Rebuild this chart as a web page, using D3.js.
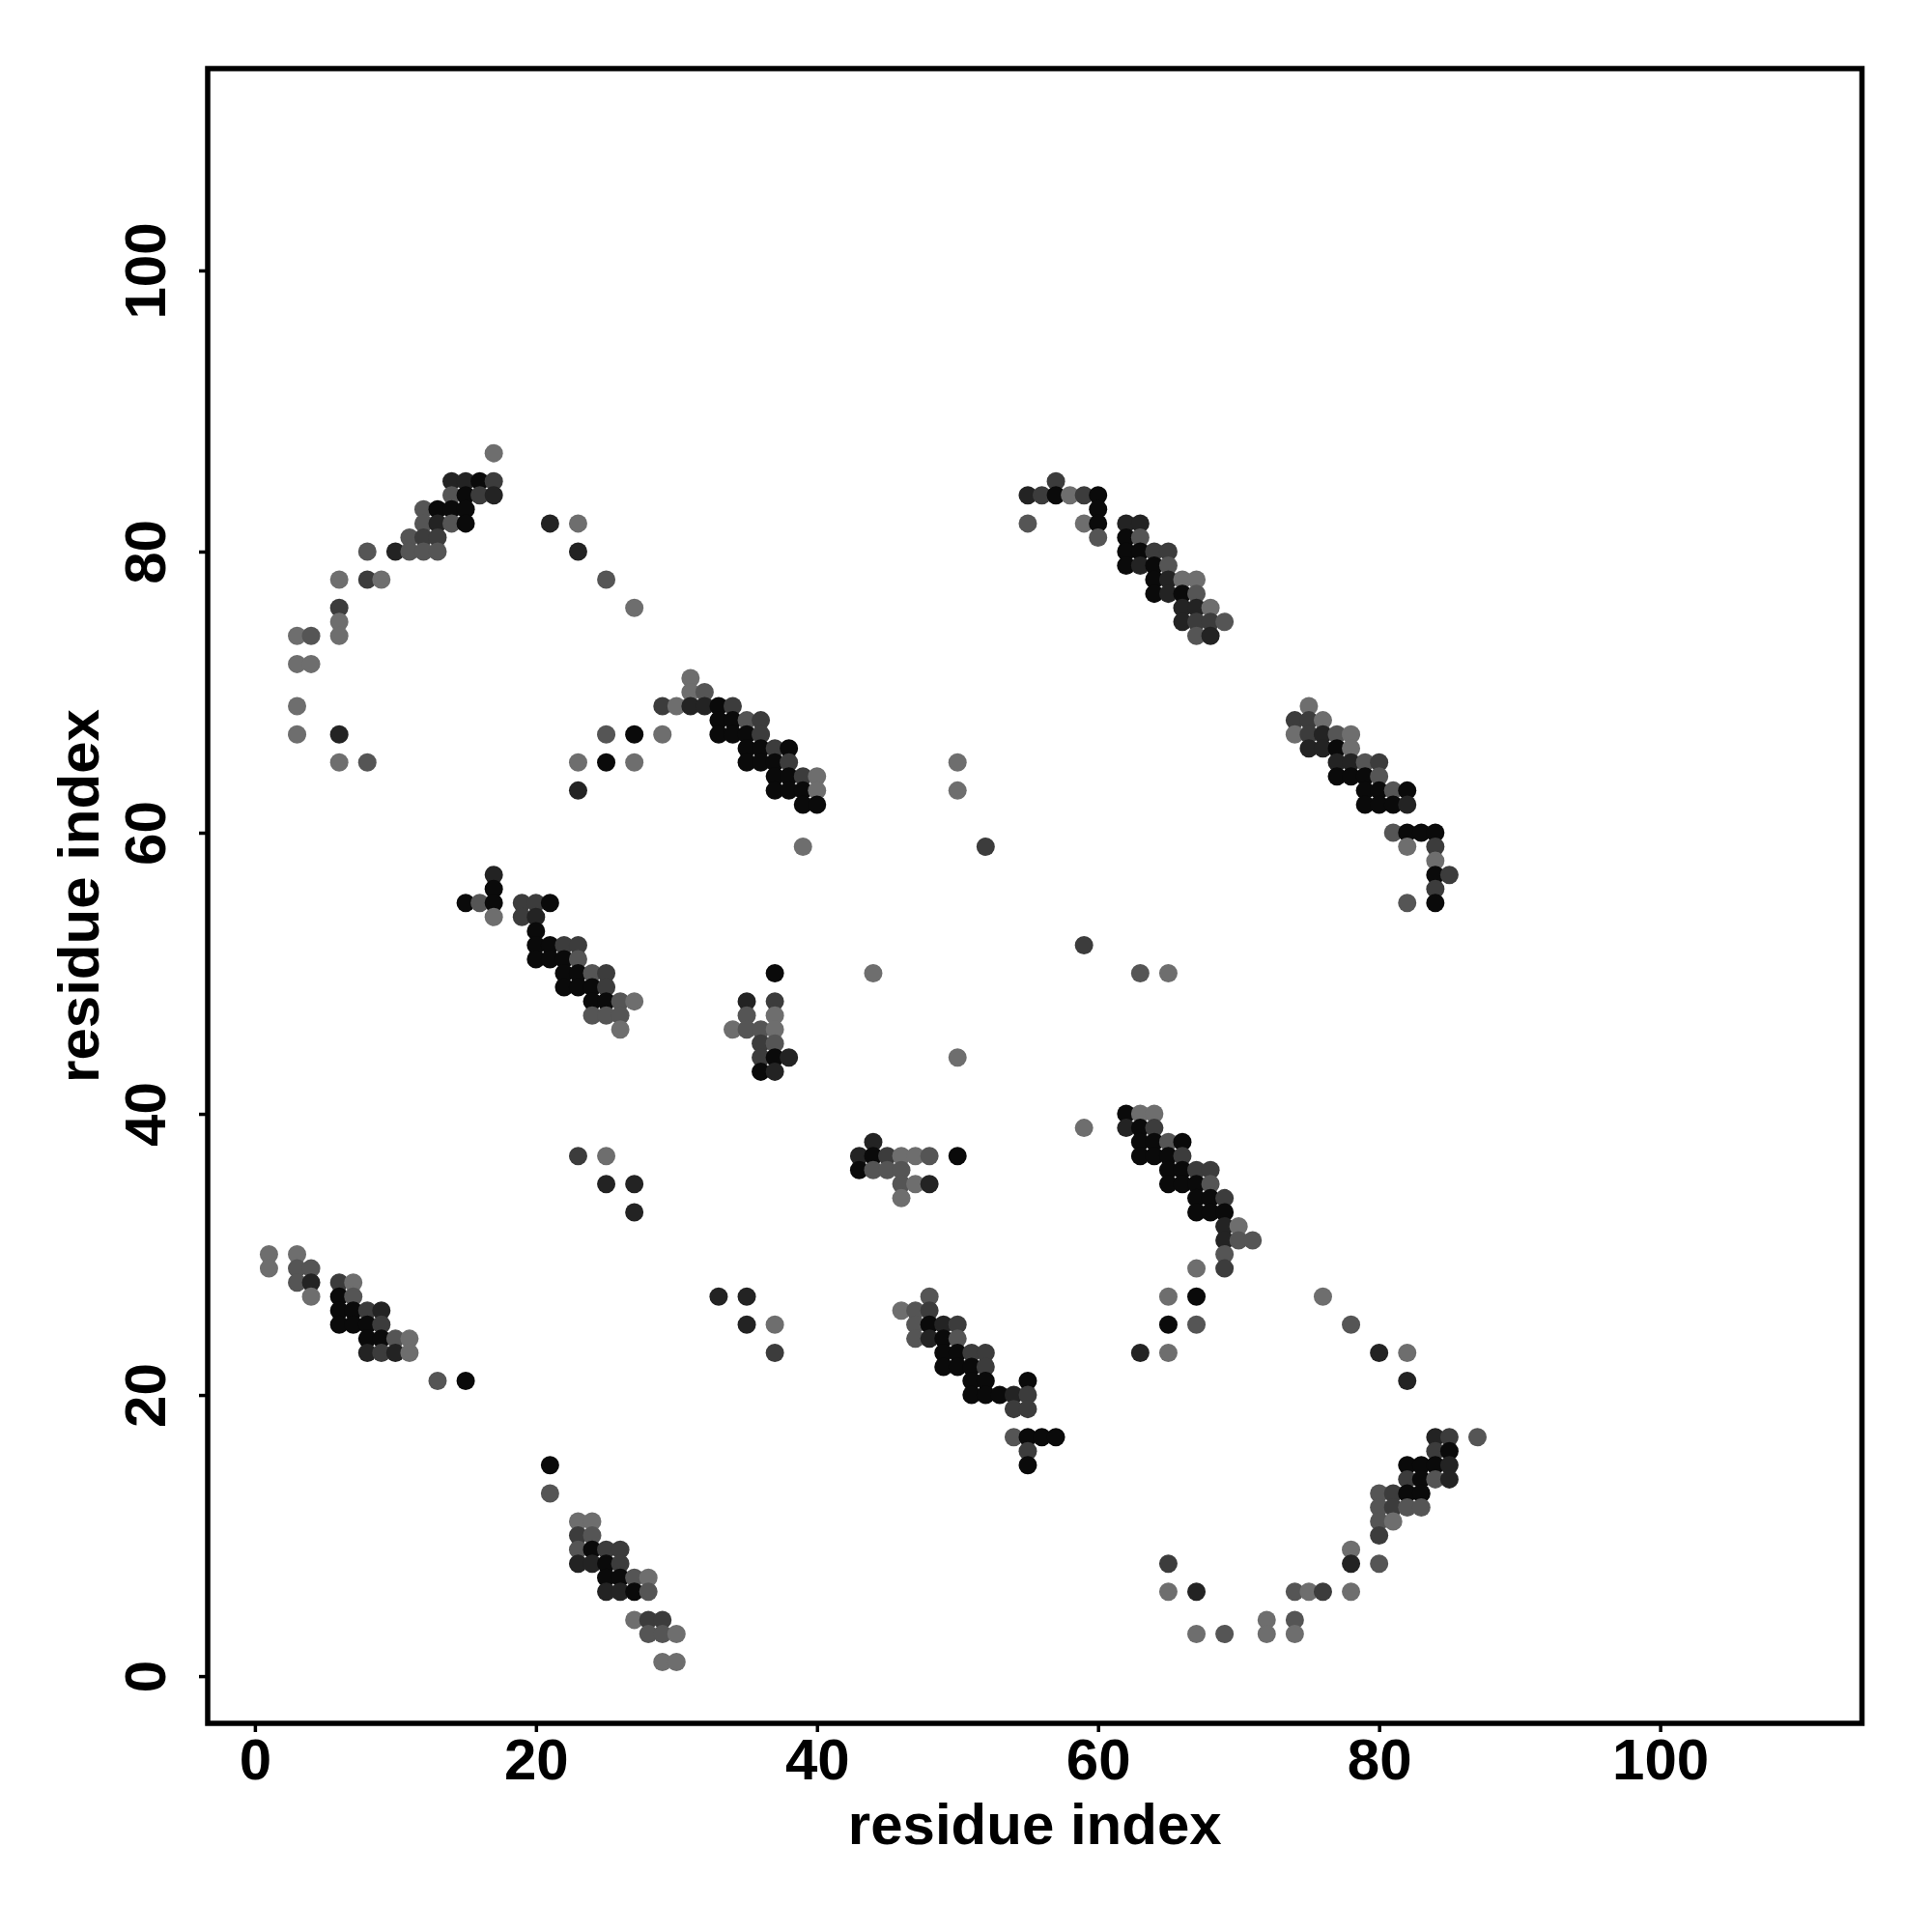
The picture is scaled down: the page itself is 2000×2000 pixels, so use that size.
<!DOCTYPE html>
<html>
<head>
<meta charset="utf-8">
<script src="https://cdn.jsdelivr.net/npm/d3@7"></script>
<style>
  body { margin: 0; background: #fff; }
  text { font-family: "Liberation Sans", Arial, Helvetica, sans-serif; font-weight: bold; }
</style>
</head>
<body>
<svg id="chart" width="2000" height="2000"></svg>
<script>
// contacts as [residue i, residue j, shade level 1 (light) .. 5 (black)]
let arcTopLeft = [
  [17,87,1],
  [14,85,4],[15,85,4],[16,85,5],[17,85,3],
  [14,84,2],[15,84,5],[16,84,3],[17,84,4],
  [12,83,2],[13,83,5],[14,83,5],[15,83,5],
  [12,82,2],[13,82,4],[14,82,2],[15,82,5],
  [11,81,2],[12,81,3],[13,81,3],
  [8,80,2],[10,80,4],[11,80,2],[12,80,2],[13,80,2],
  [6,78,1],[8,78,3],[9,78,1],
  [6,76,3],[6,75,1],
  [3,74,1],[4,74,2],[6,74,1],
  [3,72,1],[4,72,1],
  [3,69,1],[3,67,1],[6,67,4],
  [6,65,1],[8,65,2]
]
let scatterTop = [
  [21,82,4],[23,82,1],[23,80,4],[25,78,2],[27,76,1],
  [25,67,2],[27,67,5],[29,67,1],
  [23,65,1],[25,65,5],[27,65,1],
  [23,63,4],
  [50,65,1],[50,63,1],[52,59,3],
  [59,52,3],[63,50,2],[65,50,1],[44,50,1],[50,44,1],[59,39,1]
]
let diag30 = [
  [31,71,1],
  [31,70,1],[32,70,2],
  [29,69,3],[30,69,1],[31,69,4],[32,69,4],[33,69,5],[34,69,3],
  [33,68,5],[34,68,5],[35,68,2],[36,68,3],
  [33,67,5],[34,67,5],[35,67,5],[36,67,3],
  [35,66,5],[36,66,5],[37,66,3],[38,66,5],
  [35,65,5],[36,65,5],[37,65,5],[38,65,3],
  [37,64,5],[38,64,5],[39,64,3],[40,64,1],
  [37,63,5],[38,63,5],[39,63,5],[40,63,1],
  [39,62,5],[40,62,5],
  [39,59,1]
]
let diag60 = [
  [57,85,3],
  [55,84,4],[56,84,3],[57,84,5],[58,84,1],[59,84,3],[60,84,5],
  [60,83,5],
  [55,82,2],[59,82,1],[60,82,5],[62,82,4],[63,82,4],
  [60,81,2],[62,81,5],[63,81,2],
  [62,80,5],[63,80,5],[64,80,3],[65,80,3],
  [62,79,5],[63,79,4],[64,79,5],[65,79,2],
  [64,78,5],[65,78,4],[66,78,1],[67,78,1],
  [64,77,5],[65,77,4],[66,77,5],[67,77,2],
  [66,76,4],[67,76,4],[68,76,1],
  [66,75,4],[67,75,3],[68,75,3],[69,75,2],
  [67,74,2],[68,74,4]
]
let diag80 = [
  [75,69,1],
  [74,68,3],[75,68,3],[76,68,1],
  [74,67,1],[75,67,3],[76,67,4],[77,67,2],[78,67,1],
  [75,66,4],[76,66,4],[77,66,5],[78,66,1],
  [77,65,4],[78,65,4],[79,65,2],[80,65,3],
  [77,64,5],[78,64,5],[79,64,5],[80,64,2],
  [79,63,5],[80,63,5],[81,63,2],[82,63,5],
  [79,62,5],[80,62,5],[81,62,5],[82,62,4],
  [81,60,2],[82,60,5],[83,60,5],[84,60,5],
  [82,59,1],[84,59,3],
  [84,58,1],
  [84,57,5],[85,57,3],
  [84,56,3],
  [82,55,2],[84,55,5]
]
let diag20 = [
  [17,57,4],
  [17,56,5],
  [15,55,5],[16,55,2],[17,55,5],[19,55,3],[20,55,3],[21,55,5],
  [17,54,1],[19,54,3],[20,54,4],
  [20,53,5],
  [20,52,5],[21,52,5],[22,52,3],[23,52,3],
  [20,51,5],[21,51,5],[22,51,5],[23,51,2],
  [22,50,5],[23,50,5],[24,50,2],[25,50,3],
  [22,49,5],[23,49,5],[24,49,5],[25,49,3],
  [24,48,5],[25,48,5],[26,48,2],[27,48,1],
  [24,47,2],[25,47,2],[26,47,2],
  [26,46,1]
]
let middle = [
  [37,50,5],
  [35,48,4],[37,48,3],
  [35,47,2],[37,47,1],
  [34,46,1],[35,46,2],[36,46,2],[37,46,1],
  [36,45,3],[37,45,2],
  [36,44,3],[37,44,5],[38,44,4],
  [36,43,5],[37,43,4],
  [44,38,4],
  [43,37,4],[44,37,5],[45,37,3],[46,37,1],[47,37,1],[48,37,2],[50,37,5],
  [43,36,5],[44,36,2],[45,36,2],[46,36,2],
  [46,35,2],[47,35,1],[48,35,4],
  [46,34,1],
  [23,37,3],[25,37,1],[25,35,4],[27,35,4],[27,33,4],
  [33,27,4],[35,27,4],[35,25,4],[37,25,1],[37,23,3]
]
let diag65 = [
  [62,40,5],[63,40,1],[64,40,1],
  [62,39,4],[63,39,5],[64,39,3],
  [63,38,5],[64,38,5],[65,38,2],[66,38,5],
  [63,37,5],[64,37,5],[65,37,5],[66,37,3],
  [65,36,5],[66,36,5],[67,36,3],[68,36,3],
  [65,35,5],[66,35,5],[67,35,5],[68,35,2],
  [67,34,5],[68,34,5],[69,34,3],
  [67,33,5],[68,33,5],[69,33,5],
  [69,32,4],[70,32,1],
  [69,31,4],[70,31,2],[71,31,2],
  [69,30,2],
  [67,29,1],[69,29,3]
]
let diag5 = [
  [1,30,1],[3,30,1],
  [1,29,1],[3,29,2],[4,29,2],
  [3,28,2],[4,28,4],[6,28,3],[7,28,1],
  [4,27,1],[6,27,5],[7,27,2],
  [6,26,5],[7,26,5],[8,26,3],[9,26,4],
  [6,25,5],[7,25,5],[8,25,5],[9,25,3],
  [8,24,5],[9,24,5],[10,24,2],[11,24,1],
  [8,23,4],[9,23,3],[10,23,4],[11,23,1],
  [13,21,2],[15,21,5]
]
let diag50 = [
  [48,27,2],
  [46,26,1],[47,26,2],[48,26,3],
  [47,25,2],[48,25,5],[49,25,4],[50,25,3],
  [47,24,2],[48,24,4],[49,24,5],[50,24,2],
  [49,23,5],[50,23,5],[51,23,3],[52,23,3],
  [49,22,5],[50,22,5],[51,22,5],[52,22,3],
  [51,21,5],[52,21,5],[55,21,5],
  [51,20,5],[52,20,5],[53,20,5],[54,20,4],[55,20,3],
  [54,19,3],[55,19,3],
  [54,17,2],[55,17,5],[56,17,5],[57,17,5],
  [55,16,3],
  [55,15,5]
]
let diag25 = [
  [21,15,5],[21,13,2],
  [23,11,1],[24,11,1],
  [23,10,3],[24,10,2],
  [23,9,2],[24,9,5],[25,9,3],[26,9,3],
  [23,8,4],[24,8,4],[25,8,5],[26,8,3],
  [25,7,5],[26,7,5],[27,7,2],[28,7,1],
  [25,6,4],[26,6,4],[27,6,5],[28,6,2],
  [27,4,1],[28,4,3],[29,4,3],
  [28,3,2],[29,3,2],[30,3,1],
  [29,1,1],[30,1,1]
]
let bottomRight = [
  [65,27,1],[67,27,5],
  [65,25,5],[67,25,2],
  [63,23,4],[65,23,1],
  [65,8,3],[65,6,1],[67,6,4],
  [67,3,1],[69,3,2],
  [76,27,1],[78,25,2],[80,23,4],[82,23,1],[82,21,4],
  [84,17,4],[85,17,3],[87,17,2],
  [84,16,3],[85,16,5],
  [82,15,5],[83,15,5],[84,15,5],[85,15,4],
  [82,14,3],[83,14,5],[84,14,2],[85,14,4],
  [80,13,2],[81,13,3],[82,13,5],[83,13,5],
  [80,12,2],[81,12,3],[82,12,2],[83,12,2],
  [80,11,2],[81,11,1],
  [80,10,3],
  [78,9,1],
  [78,8,4],[80,8,2],
  [74,6,2],[75,6,1],[76,6,3],[78,6,1],
  [72,4,1],[74,4,2],
  [72,3,1],[74,3,1]
]
let tick_values = [0, 20, 40, 60, 80, 100]
let axis_label = "residue index"

let contacts = [].concat(arcTopLeft, scatterTop, diag30, diag60, diag80, diag20,
  middle, diag65, diag5, diag50, diag25, bottomRight)

let svg = d3.select("#chart"),
  plotLeft = 215, plotRight = 1927.5, plotTop = 71, plotBottom = 1784

let x = d3.scaleLinear().domain([-3.36, 114.36]).range([plotLeft, plotRight])
let y = d3.scaleLinear().domain([-3.36, 114.36]).range([plotBottom, plotTop])
let shade = d3.scaleLinear().domain([1, 5]).range(["#6e6e6e", "#0a0a0a"])

svg.append("rect")
  .attr("width", 2000).attr("height", 2000).attr("fill", "#fff")

svg.append("g")
  .selectAll("circle")
  .data(contacts).enter()
  .append("circle")
  .attr("cx", d => x(d[0]))
  .attr("cy", d => y(d[1]))
  .attr("r", 9.5)
  .attr("fill", d => shade(d[2]))

let xAxis = svg.append("g")
  .attr("transform", `translate(0,${plotBottom})`)
  .call(d3.axisBottom(x).tickValues(tick_values).tickSize(9).tickFormat(d3.format("d")))
xAxis.select(".domain").remove()
xAxis.selectAll("line").attr("stroke", "#000").attr("stroke-width", 3.5)
xAxis.selectAll("text")
  .attr("y", 58).attr("dy", 0)
  .attr("fill", "#000")
  .style("font-size", "60px")

let yAxis = svg.append("g")
  .attr("transform", `translate(${plotLeft},0)`)
  .call(d3.axisLeft(y).tickValues(tick_values).tickSize(9).tickFormat(d3.format("d")))
yAxis.select(".domain").remove()
yAxis.selectAll("line").attr("stroke", "#000").attr("stroke-width", 3.5)
yAxis.selectAll("text")
  .attr("transform", "rotate(-90)")
  .attr("x", 0).attr("y", -44).attr("dy", 0)
  .attr("text-anchor", "middle")
  .attr("fill", "#000")
  .style("font-size", "60px")

svg.append("rect")
  .attr("x", plotLeft).attr("y", plotTop)
  .attr("width", plotRight - plotLeft).attr("height", plotBottom - plotTop)
  .attr("fill", "none").attr("stroke", "#000").attr("stroke-width", 5.5)

svg.append("text")
  .attr("x", (plotLeft + plotRight) / 2).attr("y", 1909)
  .attr("text-anchor", "middle")
  .style("font-size", "60px")
  .text(axis_label)

svg.append("text")
  .attr("transform", `translate(102,${(plotTop + plotBottom) / 2}) rotate(-90)`)
  .attr("text-anchor", "middle")
  .style("font-size", "60px")
  .text(axis_label)
</script>
</body>
</html>
